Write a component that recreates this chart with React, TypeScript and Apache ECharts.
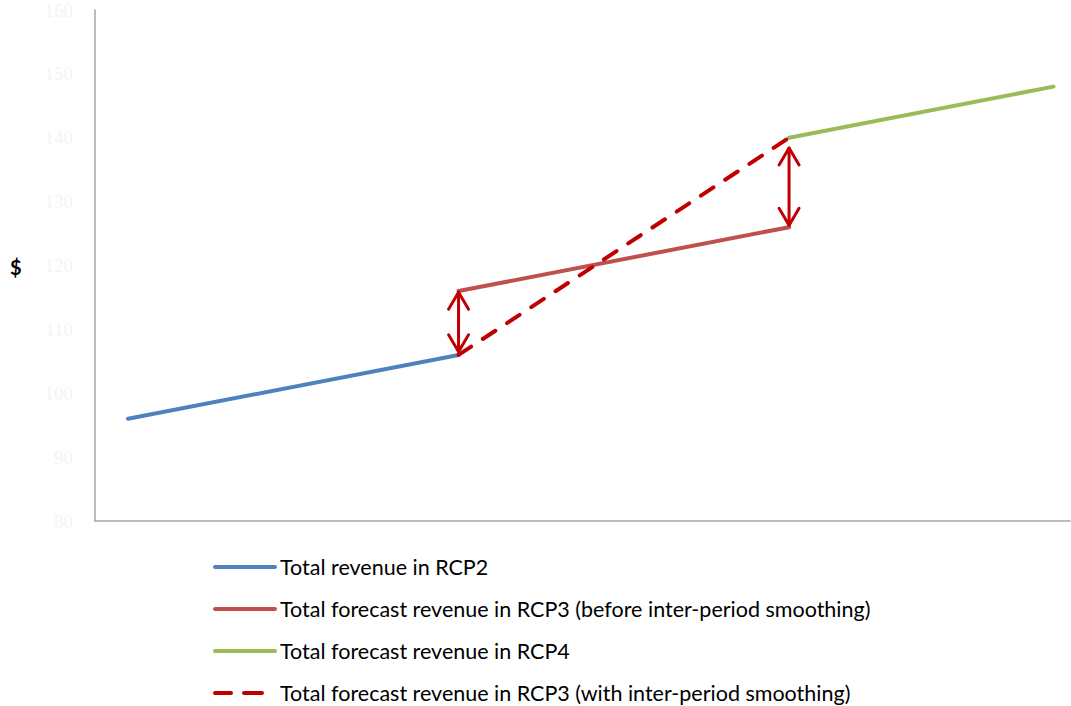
import React, { useEffect, useRef } from "react";
import * as echarts from "echarts";

// Years (x positions) and values
const rcp2Years = [0, 5];
const rcp2Values = [96, 106];
const rcp3Years = [5, 10];
const rcp3Values = [116, 126];
const rcp4Years = [10, 14];
const rcp4Values = [140, 148];
const smoothYears = [5, 10];
const smoothValues = [106, 140];
// Double arrows: [x, lower tip, upper tip]
const arrows = [
  [5, 106.5, 115.8],
  [10, 126.3, 138.4],
];
const yTicks = [80, 90, 100, 110, 120, 130, 140, 150, 160];

const names = [
  "Total revenue in RCP2",
  "Total forecast revenue in RCP3 (before inter-period smoothing)",
  "Total forecast revenue in RCP4",
  "Total forecast revenue in RCP3 (with inter-period smoothing)",
];

const zip = (xs: number[], ys: number[]) => xs.map((x, i) => [x, ys[i]]);

export default function App() {
  const ref = useRef<HTMLDivElement>(null);
  useEffect(() => {
    if (!ref.current) return;
    const chart = echarts.init(ref.current, undefined, { renderer: "svg" });
    const lineBase = {
      type: "line" as const,
      showSymbol: false,
      symbol: "none",
      z: 3,
    };
    chart.setOption({
      animation: false,
      backgroundColor: "#ffffff",
      grid: { left: 95, right: 1, top: 10, bottom: 185, containLabel: false },
      xAxis: {
        type: "value",
        min: -0.5,
        max: 14.25,
        axisLine: { show: true, onZero: false, lineStyle: { color: "#a6a6a6", width: 1.5 } },
        axisTick: { show: false },
        axisLabel: { show: false },
        splitLine: { show: false },
      },
      yAxis: {
        type: "value",
        min: yTicks[0],
        max: yTicks[yTicks.length - 1],
        interval: 10,
        axisLine: { show: true, onZero: false, lineStyle: { color: "#a6a6a6", width: 1.5 } },
        axisTick: { show: false },
        splitLine: { show: false },
        axisLabel: {
          color: "#f4f4f4",
          fontFamily: "Liberation Serif",
          fontSize: 19,
          margin: 22,
        },
      },
      legend: {
        orient: "vertical",
        left: 213,
        top: 556,
        padding: 0,
        itemWidth: 60,
        itemHeight: 14,
        itemGap: 20,
        data: [
          names[0],
          names[1],
          names[2],
          { name: names[3], lineStyle: { type: [16, 13, 18, 100], width: 4, cap: "round" } },
        ],
        itemStyle: { opacity: 0 },
        lineStyle: { width: 4, cap: "round" },
        textStyle: {
          fontFamily: "Lato",
          fontSize: 21.5,
          color: "#000000",
          lineHeight: 22,
        },
      },
      graphic: [
        {
          type: "text",
          left: 10,
          top: 257,
          style: {
            text: "$",
            fontFamily: "Lato",
            fontSize: 20,
            fontWeight: "bold",
            fill: "#000000",
          },
        },
      ],
      series: [
        {
          ...lineBase,
          name: names[0],
          data: zip(rcp2Years, rcp2Values),
          color: "#4f81bd",
          lineStyle: { color: "#4f81bd", width: 4, cap: "round" },
        },
        {
          ...lineBase,
          name: names[1],
          data: zip(rcp3Years, rcp3Values),
          color: "#c0504d",
          lineStyle: { color: "#c0504d", width: 4, cap: "round" },
        },
        {
          ...lineBase,
          name: names[2],
          data: zip(rcp4Years, rcp4Values),
          color: "#9bbb59",
          lineStyle: { color: "#9bbb59", width: 4, cap: "round" },
        },
        {
          ...lineBase,
          name: names[3],
          data: zip(smoothYears, smoothValues),
          color: "#c00000",
          z: 4,
          lineStyle: { color: "#c00000", width: 4, type: [15, 14], cap: "round" },
        },
        {
          type: "custom",
          name: "arrows",
          z: 5,
          data: arrows,
          renderItem: (params: any, api: any) => {
            const x = api.value(0);
            const lo = api.coord([x, api.value(1)]);
            const hi = api.coord([x, api.value(2)]);
            const st = { stroke: "#c00000", lineWidth: 3, fill: "none", lineCap: "round", lineJoin: "round" };
            const hw = 10;
            const hh = 17;
            return {
              type: "group",
              children: [
                {
                  type: "line",
                  shape: { x1: lo[0], y1: lo[1], x2: hi[0], y2: hi[1] },
                  style: st,
                },
                {
                  type: "polyline",
                  shape: {
                    points: [
                      [hi[0] - hw, hi[1] + hh],
                      [hi[0], hi[1]],
                      [hi[0] + hw, hi[1] + hh],
                    ],
                  },
                  style: st,
                },
                {
                  type: "polyline",
                  shape: {
                    points: [
                      [lo[0] - hw, lo[1] - hh],
                      [lo[0], lo[1]],
                      [lo[0] + hw, lo[1] - hh],
                    ],
                  },
                  style: st,
                },
              ],
            };
          },
        },
      ],
    });
    return () => chart.dispose();
  }, []);
  return <div ref={ref} style={{ width: 1071, height: 706, position: "absolute", left: 0, top: 0 }} />;
}
